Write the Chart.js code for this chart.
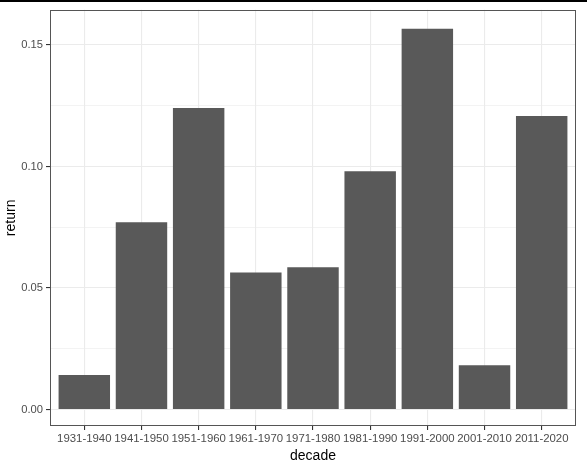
<!DOCTYPE html>
<html>
<head>
<meta charset="utf-8">
<script src="https://cdn.jsdelivr.net/npm/chart.js@4"></script>
<style>
html,body{margin:0;padding:0;background:#fff;}
#wrap{position:relative;width:587px;height:469px;}
#topbar{position:absolute;left:0;top:0;width:587px;height:2px;background:#000;}
canvas{position:absolute;left:0;top:0;}
</style>
</head>
<body>
<div id="wrap">
<canvas id="c" width="587" height="469"></canvas>
<div id="topbar"></div>
</div>
<script>
const decades = ["1931-1940","1941-1950","1951-1960","1961-1970","1971-1980","1981-1990","1991-2000","2001-2010","2011-2020"];
const returns = [0.0142, 0.0770, 0.1241, 0.0564, 0.0585, 0.0980, 0.1567, 0.0182, 0.1208];
const yTicks = [0, 0.025, 0.05, 0.075, 0.10, 0.125, 0.15];
const yMajor = [0, 0.05, 0.10, 0.15];
const xTitle = "decade";
const yTitle = "return";

const FONT = "'Liberation Sans', Arial, sans-serif";
const isMajor = v => yMajor.some(m => Math.abs(m - v) < 1e-9);

const panelBorder = {
  id: 'panelBorder',
  afterDatasetsDraw(chart) {
    const a = chart.chartArea, ctx = chart.ctx;
    ctx.save();
    ctx.strokeStyle = '#555555';
    ctx.lineWidth = 1;
    ctx.strokeRect(Math.round(a.left) + 0.5, Math.round(a.top) + 0.5, Math.round(a.right - a.left) - 1, Math.round(a.bottom - a.top) - 1);
    ctx.restore();
  }
};

new Chart(document.getElementById('c'), {
  type: 'bar',
  data: {
    datasets: [{
      data: decades.map((d, i) => ({x: i + 1, y: returns[i]})),
      backgroundColor: '#595959',
      borderWidth: 0,
      categoryPercentage: 1,
      barPercentage: 0.9
    }]
  },
  plugins: [panelBorder],
  options: {
    responsive: false,
    animation: false,
    devicePixelRatio: 1,
    layout: {padding: {top: 7, right: 11, left: 3, bottom: 4}},
    plugins: {legend: {display: false}, tooltip: {enabled: false}},
    scales: {
      x: {
        type: 'linear',
        offset: false,
        min: 0.4, max: 9.6,
        afterBuildTicks(scale) { scale.ticks = decades.map((d, i) => ({value: i + 1})); },
        afterFit(scale) { scale.height = 39; },
        grid: {offset: false, color: '#ebebeb', lineWidth: 1.1, tickColor: '#333333', tickLength: 4, drawOnChartArea: true},
        border: {display: false},
        ticks: {
          autoSkip: false, maxRotation: 0, padding: 2,
          color: '#4d4d4d', font: {family: FONT, size: 11.4},
          callback: (v) => decades[Math.round(v) - 1]
        },
        title: {display: true, text: xTitle, color: '#000', font: {family: FONT, size: 14}, padding: {top: 0, bottom: 0}}
      },
      y: {
        min: -0.0068, max: 0.1645,
        afterBuildTicks(scale) { scale.ticks = yTicks.map(v => ({value: v})); },
        afterFit(scale) { scale.width = 47; },
        grid: {
          color: '#ebebeb',
          lineWidth: (c) => isMajor(c.tick.value) ? 1.1 : 0.6,
          tickColor: (c) => isMajor(c.tick.value) ? '#333333' : 'rgba(0,0,0,0)',
          tickLength: 4
        },
        border: {display: false},
        ticks: {
          padding: 3, color: '#4d4d4d', font: {family: FONT, size: 11.2},
          callback: (v) => isMajor(v) ? v.toFixed(2) : ''
        },
        title: {display: true, text: yTitle, color: '#000', font: {family: FONT, size: 14}, padding: {top: 0, bottom: 2}}
      }
    }
  }
});
</script>
</body>
</html>
